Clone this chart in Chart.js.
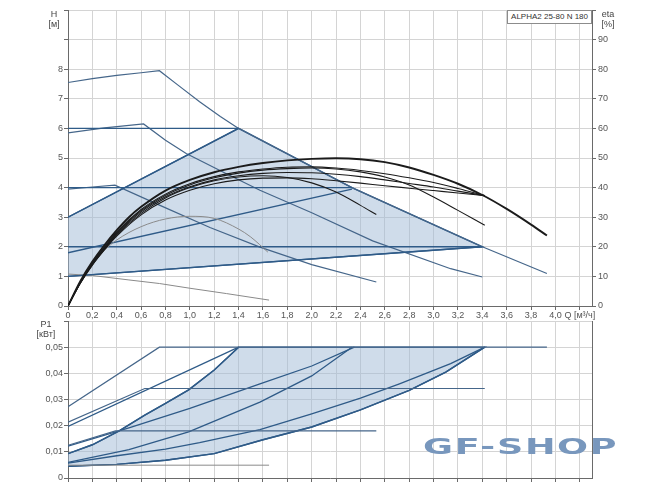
<!DOCTYPE html>
<html>
<head>
<meta charset="utf-8">
<script src="https://cdn.jsdelivr.net/npm/chart.js@4"></script>
<style>
  body { margin: 0; width: 650px; height: 486px; position: relative; overflow: hidden; background: #fff;
         font-family: "Liberation Sans", Arial, sans-serif; color: #444; }
  canvas { position: absolute; left: 0; }
  #topChart { top: 0; }
  #bottomChart { top: 318px; }
  .lbl { position: absolute; font-size: 9px; line-height: 10px; text-align: center; }
  #model { position: absolute; right: 58px; top: 10px; font-size: 8px; line-height: 10px; padding: 1px 3px;
           border: 1px solid #8c8c8c; background: #fff; color: #333; }
  #mark { position: absolute; left: 423px; top: 434px; font: 900 22px "DejaVu Sans", sans-serif;
          color: #7897bd; letter-spacing: 1px; transform: scaleX(1.66); transform-origin: left top; white-space: nowrap; }
</style>
</head>
<body>
<canvas id="topChart" width="650" height="320"></canvas>
<canvas id="bottomChart" width="650" height="168"></canvas>
<div class="lbl" style="left:42px;top:9px;width:24px">H<br>[м]</div>
<div class="lbl" style="left:594px;top:9px;width:28px">eta<br>[%]</div>
<div class="lbl" style="left:30px;top:319px;width:32px">P1<br>[кВт]</div>
<div id="model">ALPHA2 25-80 N 180</div>
<div id="mark">GF-SHOP</div>
<script>
// flow ticks [m3/h]; the last slot carries the axis name
const qTicks = [0, 0.2, 0.4, 0.6, 0.8, 1.0, 1.2, 1.4, 1.6, 1.8, 2.0, 2.2, 2.4, 2.6, 2.8, 3.0, 3.2, 3.4, 3.6, 3.8, 4.0, 4.2];
const qName = "Q [м³/ч]";

// head curves H [m] : [Q, H]
const speedIII = [[0, 7.55], [0.2, 7.68], [0.4, 7.79], [0.6, 7.88], [0.75, 7.95], [0.9, 7.47], [1.08, 6.9], [1.25, 6.4], [1.4, 6.0], [2.33, 4.0], [3.4, 2.0], [3.93, 1.1]];
const speedII = [[0, 5.85], [0.3, 6.02], [0.62, 6.15], [0.8, 5.6], [0.97, 5.15], [1.3, 4.47], [1.575, 3.91], [2.0, 3.15], [2.5, 2.2], [3.14, 1.26], [3.4, 0.98]];
const speedI = [[0, 3.95], [0.2, 4.02], [0.385, 4.08], [0.755, 3.4], [1.165, 2.65], [1.575, 1.99], [2.0, 1.4], [2.53, 0.81]];
const night = [[0, 1.08], [0.2, 1.03], [0.5, 0.88], [0.75, 0.76], [1.0, 0.6], [1.3, 0.42], [1.65, 0.2]];
const cp3 = [[0, 6], [1.4, 6]];
const cp2 = [[0, 4], [2.33, 4]];
const cp1 = [[0, 2], [3.4, 2]];
const pp3 = [[0, 3], [1.4, 6]];
const pp2 = [[0, 1.8], [2.33, 3.95]];
const pp1 = [[0, 1], [3.4, 2]];

// efficiency curves eta [%] : [Q, eta]
const etaIII = [[0, 0], [0.1, 8.3], [0.2, 15], [0.3, 20.6], [0.4, 25.6], [0.5, 30], [0.6, 33.5], [0.8, 39], [1.0, 42.6], [1.2, 45.2], [1.4, 47], [1.6, 48.3], [1.8, 49.2], [2.0, 49.7], [2.2, 49.9], [2.4, 49.6], [2.6, 48.6], [2.8, 46.8], [3.0, 44.3], [3.2, 41.3], [3.4, 37.5], [3.6, 32.8], [3.8, 27.5], [3.93, 23.8]];
const etaA = [[0, 0], [0.1, 8], [0.2, 14.6], [0.3, 20], [0.4, 25], [0.6, 32.6], [0.8, 37.8], [1.0, 41.3], [1.2, 43.7], [1.4, 45.3], [1.6, 46.3], [1.8, 46.9], [2.0, 47], [2.2, 46.6], [2.4, 45.8], [2.6, 44.7], [2.8, 43.3], [3.0, 41.7], [3.2, 39.7], [3.42, 37.3]];
const etaB = [[0, 0], [0.1, 7.8], [0.2, 14.2], [0.3, 19.5], [0.4, 24.3], [0.6, 31.8], [0.8, 36.9], [1.0, 40.3], [1.2, 42.6], [1.4, 44], [1.6, 44.8], [1.8, 45.1], [2.0, 45], [2.2, 44.5], [2.4, 43.7], [2.6, 42.6], [2.8, 41.4], [3.0, 40.2], [3.2, 38.8], [3.42, 37.3]];
const etaC = [[0, 0], [0.1, 7.6], [0.2, 13.8], [0.3, 19], [0.4, 23.6], [0.6, 30.8], [0.8, 35.8], [1.0, 39.1], [1.2, 41.3], [1.4, 42.6], [1.6, 43.2], [1.8, 43.3], [2.0, 43], [2.2, 42.3], [2.4, 41.5], [2.6, 40.6], [2.8, 39.8], [3.0, 39], [3.2, 38.2], [3.42, 37.3]];
const etaD = [[0, 0], [0.1, 7.9], [0.2, 14.4], [0.3, 19.7], [0.4, 24.6], [0.6, 32.2], [0.8, 37.4], [1.0, 40.9], [1.2, 43.3], [1.4, 44.9], [1.6, 45.9], [1.8, 46.4], [2.0, 46.6], [2.2, 46.3], [2.4, 45.3], [2.6, 43.6], [2.8, 40.9], [3.0, 36.8], [3.2, 32.3], [3.42, 27.3]];
const etaE = [[0, 0], [0.1, 7.7], [0.2, 14], [0.3, 19.2], [0.4, 24], [0.6, 31.3], [0.8, 36.5], [1.0, 40], [1.2, 42.3], [1.4, 43.6], [1.6, 44], [1.8, 43.4], [2.0, 41.6], [2.2, 38.5], [2.4, 34], [2.53, 30.9]];
const etaI = [[0, 0], [0.1, 7.5], [0.2, 13.8], [0.3, 18.8], [0.4, 22.3], [0.6, 26.8], [0.8, 29.4], [1.0, 30.3], [1.2, 29.6], [1.4, 26], [1.5, 23.3], [1.64, 18.2]];

// power curves P1 [kW] : [Q, P1]
const pSpeedIII = [[0, 0.0272], [0.75, 0.05], [3.93, 0.05]];
const pSpeedII = [[0, 0.0213], [0.63, 0.0342], [3.42, 0.0342]];
const pSpeedI = [[0, 0.0125], [0.39, 0.018], [2.53, 0.018]];
const pNight = [[0, 0.0049], [1.65, 0.0049]];
const pCp3 = [[0, 0.0197], [1.4, 0.05]];
const pCp2 = [[0, 0.0122], [0.5, 0.0192], [1.0, 0.0266], [1.575, 0.036], [2.0, 0.0428], [2.35, 0.05]];
const pCp1 = [[0, 0.0057], [0.4, 0.0085], [0.8, 0.011], [1.08, 0.0135], [1.575, 0.0185], [2.0, 0.0245], [2.4, 0.0305], [2.72, 0.036], [3.14, 0.0437], [3.42, 0.05]];
const pPp3 = [[0, 0.0093], [0.2, 0.0127], [0.42, 0.018], [0.63, 0.024], [0.8, 0.0285], [0.99, 0.0337], [1.2, 0.0413], [1.4, 0.05]];
const pPp2 = [[0, 0.006], [0.5, 0.0108], [0.99, 0.0176], [1.575, 0.029], [2.0, 0.039], [2.33, 0.05]];
const pPp1 = [[0, 0.0045], [0.4, 0.0052], [0.8, 0.0068], [1.2, 0.0093], [1.6, 0.0146], [2.0, 0.0195], [2.4, 0.026], [2.8, 0.0335], [3.1, 0.0405], [3.42, 0.05]];

const BLUE = "#2f5b88";
const MAXC = "#45668a";
const GRID = "#d4d4d4";
const AXIS = "#6a6a6a";
const AREA = "rgba(160,186,214,0.5)";
const FONT = { family: "Liberation Sans", size: 9 };

const pts = arr => arr.map(([x, y]) => ({ x, y }));
function line(data, color, width, extra) {
  return Object.assign({ data: pts(data), borderColor: color, borderWidth: width, showLine: true,
    pointRadius: 0, fill: false, tension: 0, order: 1 }, extra || {});
}
const fmt = (v, d) => (v === 0 ? "0" : v.toFixed(d).replace(".", ","));
function noPad(s) { s.paddingTop = 0; s.paddingBottom = 0; s.paddingLeft = 0; s.paddingRight = 0; }
const setQTicks = s => { s.ticks = qTicks.map(v => ({ value: v })); };

// fill areas built from the boundary curves
const edge = speedIII.filter(p => p[0] > 1.4 && p[0] < 3.4);
const autoArea = [...pp3, ...edge, ...pp1.slice().reverse()];
const pArea = [...pPp3, ...pPp1.slice().reverse()];

const eta = (d, w) => line(d, "#1b1b1b", w, { yAxisID: "eta", cubicInterpolationMode: "monotone", order: 0 });

new Chart(document.getElementById("topChart"), {
  type: "scatter",
  data: {
    datasets: [
      eta(etaIII, 1.9), eta(etaA, 1.1), eta(etaB, 1.1), eta(etaC, 1.1), eta(etaD, 1.1), eta(etaE, 1.1),
      line(etaI, "#8a8a8a", 1, { yAxisID: "eta", cubicInterpolationMode: "monotone", order: 0 }),
      line(cp3, BLUE, 1.4), line(cp2, BLUE, 1.4), line(cp1, BLUE, 1.4),
      line(pp3, BLUE, 1.4), line(pp2, BLUE, 1.4), line(pp1, BLUE, 1.4),
      line(speedIII, MAXC, 1.2), line(speedII, MAXC, 1.2), line(speedI, MAXC, 1.2),
      line(night, "#8a8a8a", 1),
      line(autoArea, BLUE, 1.4, { backgroundColor: AREA, fill: "shape", order: 5 })
    ]
  },
  options: {
    responsive: false, animation: false, events: [],
    layout: { padding: { top: 10, left: 0, right: 0, bottom: 0 } },
    plugins: { legend: { display: false }, tooltip: { enabled: false } },
    scales: {
      x: {
        type: "linear", min: 0, max: 4.3,
        afterBuildTicks: setQTicks,
        afterFit: s => { s.height = 14; noPad(s); },
        grid: { color: GRID, tickColor: AXIS, tickLength: 4 },
        border: { color: AXIS },
        ticks: { font: FONT, color: "#555", padding: 0, maxRotation: 0, autoSkip: false,
                 callback: v => (v > 4.1 ? qName : fmt(v, 1)) }
      },
      y: {
        min: 0, max: 10,
        afterFit: s => { s.width = 68; noPad(s); },
        grid: { color: GRID, tickColor: AXIS, tickLength: 4 },
        border: { color: AXIS },
        ticks: { stepSize: 1, font: FONT, color: "#555", padding: 1, callback: v => (v <= 8 ? String(v) : "") }
      },
      eta: {
        position: "right", min: 0, max: 100,
        afterFit: s => { s.width = 58; noPad(s); },
        grid: { drawOnChartArea: false, tickColor: AXIS, tickLength: 4 },
        border: { color: AXIS },
        ticks: { stepSize: 10, font: FONT, color: "#555", padding: 2, callback: v => (v <= 90 ? String(v) : "") }
      }
    }
  }
});

new Chart(document.getElementById("bottomChart"), {
  type: "scatter",
  data: {
    datasets: [
      line(pSpeedIII, MAXC, 1.2), line(pSpeedII, MAXC, 1.2), line(pSpeedI, MAXC, 1.2),
      line(pNight, "#8a8a8a", 1),
      line(pCp3, BLUE, 1.3), line(pCp2, BLUE, 1.3), line(pCp1, BLUE, 1.3),
      line(pPp3, BLUE, 1.4), line(pPp2, BLUE, 1.3), line(pPp1, BLUE, 1.4),
      line(pArea, BLUE, 1.4, { backgroundColor: AREA, fill: "shape", order: 5 })
    ]
  },
  options: {
    responsive: false, animation: false, events: [],
    layout: { padding: { top: 3, left: 0, right: 0, bottom: 0 } },
    plugins: { legend: { display: false }, tooltip: { enabled: false } },
    scales: {
      x: {
        type: "linear", min: 0, max: 4.3,
        afterBuildTicks: setQTicks,
        afterFit: s => { s.height = 8; noPad(s); },
        grid: { color: GRID, tickColor: AXIS, tickLength: 4 },
        border: { color: AXIS },
        ticks: { display: false }
      },
      y: {
        min: 0, max: 0.06,
        afterFit: s => { s.width = 68; noPad(s); },
        grid: { color: GRID, tickColor: AXIS, tickLength: 4 },
        border: { color: AXIS },
        ticks: { stepSize: 0.01, font: FONT, color: "#555", padding: 1, callback: v => (v < 0.055 ? fmt(v, 2) : "") }
      },
      yr: {
        position: "right", min: 0, max: 0.06,
        afterFit: s => { s.width = 58; noPad(s); },
        grid: { drawOnChartArea: false, display: false },
        border: { color: AXIS },
        ticks: { display: false }
      }
    }
  }
});
</script>
</body>
</html>
